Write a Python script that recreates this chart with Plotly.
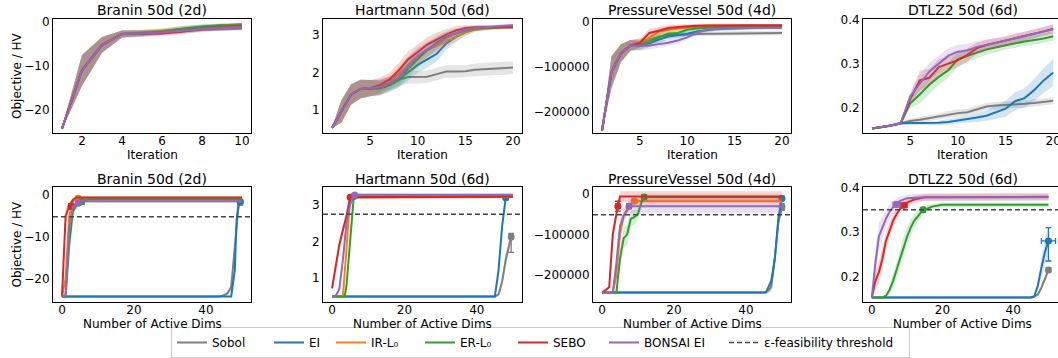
import plotly.graph_objects as go

# ---------------- data ----------------
METHODS = ["Sobol", "EI", "IR-L0", "ER-L0", "SEBO", "BONSAI EI"]
LEGEND_NAMES = ["Sobol", "EI", "IR-L₀", "ER-L₀", "SEBO", "BONSAI EI"]
COLORS = ["#7f7f7f", "#1f77b4", "#ff7f0e", "#2ca02c", "#d62728", "#9467bd"]
PANEL_TITLES = ["Branin 50d (2d)", "Hartmann 50d (6d)", "PressureVessel 50d (4d)", "DTLZ2 50d (6d)"]
THRESHOLD_NAME = "ε-feasibility threshold"
TOP_XLABEL = "Iteration"
BOTTOM_XLABEL = "Number of Active Dims"
YLABEL = "Objective / HV"

ITER_10 = [1, 2, 3, 4, 5, 6, 7, 8, 9, 10]
ITER_20 = [1, 2, 3, 4, 5, 6, 7, 8, 9, 10, 11, 12, 13, 14, 15, 16, 17, 18, 19, 20]

# --- top row: objective vs iteration (mean, standard error) ---
BRANIN_MEAN = {
    "Sobol":     [-24.3, -11.0, -5.2, -2.7, -2.6, -2.4, -2.1, -1.8, -1.6, -1.5],
    "EI":        [-24.3, -11.0, -5.2, -2.7, -2.5, -2.1, -1.5, -1.0, -0.7, -0.5],
    "IR-L0":     [-24.3, -11.0, -5.2, -2.7, -2.4, -2.0, -1.5, -1.1, -0.8, -0.6],
    "ER-L0":     [-24.3, -11.0, -5.2, -2.7, -2.5, -2.2, -1.6, -1.1, -0.8, -0.7],
    "SEBO":      [-24.3, -11.0, -5.2, -2.7, -2.7, -2.6, -2.2, -1.6, -1.2, -0.9],
    "BONSAI EI": [-24.3, -11.0, -5.2, -2.7, -2.6, -2.4, -2.0, -1.6, -1.3, -1.1],
}
BRANIN_SE = {
    "Sobol":     [0.2, 3.5, 1.8, 0.8, 0.7, 0.6, 0.5, 0.5, 0.4, 0.4],
    "EI":        [0.2, 3.5, 1.8, 0.8, 0.7, 0.6, 0.6, 0.5, 0.4, 0.3],
    "IR-L0":     [0.2, 3.5, 1.8, 0.8, 0.7, 0.6, 0.6, 0.5, 0.4, 0.3],
    "ER-L0":     [0.2, 3.5, 1.8, 0.8, 0.7, 0.6, 0.6, 0.5, 0.4, 0.3],
    "SEBO":      [0.2, 3.5, 1.8, 0.8, 0.7, 0.6, 0.6, 0.5, 0.5, 0.4],
    "BONSAI EI": [0.2, 3.5, 1.8, 0.8, 0.7, 0.6, 0.6, 0.5, 0.5, 0.4],
}

HARTMANN_MEAN = {
    "Sobol":     [0.50, 0.95, 1.40, 1.55, 1.57, 1.60, 1.70, 1.80, 1.87, 1.87, 1.88, 1.95, 2.02, 2.02, 2.03, 2.07, 2.08, 2.10, 2.10, 2.13],
    "EI":        [0.50, 0.95, 1.40, 1.55, 1.57, 1.57, 1.65, 1.80, 2.00, 2.20, 2.35, 2.50, 2.78, 2.95, 3.08, 3.17, 3.20, 3.22, 3.24, 3.25],
    "IR-L0":     [0.50, 0.95, 1.40, 1.55, 1.57, 1.60, 1.72, 1.95, 2.20, 2.42, 2.60, 2.72, 2.83, 2.95, 3.08, 3.15, 3.18, 3.20, 3.21, 3.22],
    "ER-L0":     [0.50, 0.95, 1.40, 1.55, 1.57, 1.57, 1.65, 1.78, 2.10, 2.35, 2.60, 2.80, 2.95, 3.05, 3.13, 3.18, 3.20, 3.21, 3.22, 3.22],
    "SEBO":      [0.50, 0.95, 1.40, 1.55, 1.57, 1.65, 1.80, 2.05, 2.35, 2.55, 2.75, 2.88, 3.02, 3.13, 3.20, 3.22, 3.22, 3.22, 3.23, 3.23],
    "BONSAI EI": [0.50, 0.95, 1.40, 1.55, 1.57, 1.60, 1.70, 1.85, 2.20, 2.45, 2.62, 2.78, 2.93, 3.06, 3.15, 3.20, 3.22, 3.24, 3.25, 3.27],
}
HARTMANN_SE = {
    "Sobol":     [0.02, 0.30, 0.28, 0.25, 0.22, 0.20, 0.18, 0.17, 0.17, 0.17, 0.17, 0.17, 0.17, 0.17, 0.17, 0.17, 0.17, 0.17, 0.17, 0.17],
    "EI":        [0.02, 0.30, 0.28, 0.25, 0.22, 0.20, 0.18, 0.20, 0.22, 0.22, 0.22, 0.20, 0.18, 0.14, 0.10, 0.07, 0.06, 0.05, 0.05, 0.05],
    "IR-L0":     [0.02, 0.30, 0.28, 0.25, 0.22, 0.20, 0.18, 0.20, 0.22, 0.22, 0.20, 0.18, 0.15, 0.12, 0.08, 0.06, 0.05, 0.05, 0.05, 0.05],
    "ER-L0":     [0.02, 0.30, 0.28, 0.25, 0.22, 0.20, 0.18, 0.20, 0.22, 0.22, 0.20, 0.18, 0.15, 0.12, 0.08, 0.06, 0.05, 0.05, 0.05, 0.05],
    "SEBO":      [0.02, 0.30, 0.28, 0.25, 0.22, 0.20, 0.18, 0.20, 0.22, 0.22, 0.20, 0.18, 0.15, 0.12, 0.08, 0.06, 0.05, 0.05, 0.05, 0.05],
    "BONSAI EI": [0.02, 0.30, 0.28, 0.25, 0.22, 0.20, 0.18, 0.20, 0.22, 0.22, 0.20, 0.18, 0.15, 0.12, 0.08, 0.06, 0.05, 0.05, 0.05, 0.05],
}

PV_MEAN = {
    "Sobol":     [-243000, -112000, -70000, -53000, -48000, -40000, -33000, -30000, -29000, -28000, -27500, -27000, -27000, -26500, -26000, -26000, -25500, -25500, -25000, -25000],
    "EI":        [-243000, -112000, -70000, -53000, -53000, -48000, -40000, -33000, -30000, -27000, -22000, -19000, -17000, -16000, -15000, -14500, -14000, -13500, -13000, -13000],
    "IR-L0":     [-243000, -112000, -70000, -53000, -50000, -35000, -22000, -18000, -15000, -13000, -11000, -10000, -10000, -9500, -9500, -9500, -9500, -9000, -9000, -9000],
    "ER-L0":     [-243000, -112000, -70000, -53000, -52000, -45000, -35000, -27000, -25000, -18000, -15000, -13000, -12500, -12000, -12000, -12000, -12000, -12000, -12000, -12000],
    "SEBO":      [-243000, -112000, -70000, -53000, -47000, -25000, -20000, -14000, -12000, -10000, -9000, -8500, -8000, -8000, -8000, -8000, -8000, -8000, -8000, -8000],
    "BONSAI EI": [-243000, -112000, -70000, -53000, -54000, -53000, -50000, -47000, -42000, -35000, -25000, -18000, -16000, -15000, -14500, -14000, -14000, -14000, -14000, -14000],
}
PV_SE = {
    "Sobol":     [2000, 35000, 20000, 12000, 10000, 9000, 8000, 7000, 6000, 5000, 5000, 5000, 5000, 5000, 5000, 5000, 5000, 5000, 5000, 5000],
    "EI":        [2000, 35000, 20000, 12000, 10000, 9000, 8000, 7000, 6000, 5000, 4500, 4000, 4000, 3500, 3500, 3500, 3500, 3000, 3000, 3000],
    "IR-L0":     [2000, 35000, 20000, 12000, 10000, 9000, 8000, 7000, 6000, 5000, 4500, 4000, 4000, 3500, 3500, 3500, 3500, 3000, 3000, 3000],
    "ER-L0":     [2000, 35000, 20000, 12000, 10000, 9000, 8000, 7000, 6000, 5000, 4500, 4000, 4000, 3500, 3500, 3500, 3500, 3000, 3000, 3000],
    "SEBO":      [2000, 35000, 20000, 12000, 10000, 9000, 8000, 7000, 6000, 5000, 4500, 4000, 4000, 3500, 3500, 3500, 3500, 3000, 3000, 3000],
    "BONSAI EI": [2000, 35000, 20000, 12000, 10000, 9000, 8000, 7000, 6000, 5000, 4500, 4000, 4000, 3500, 3500, 3500, 3500, 3000, 3000, 3000],
}

DTLZ2_MEAN = {
    "Sobol":     [0.153, 0.156, 0.160, 0.165, 0.170, 0.173, 0.177, 0.180, 0.185, 0.188, 0.190, 0.197, 0.203, 0.205, 0.206, 0.207, 0.209, 0.211, 0.213, 0.216],
    "EI":        [0.153, 0.156, 0.160, 0.165, 0.165, 0.165, 0.165, 0.166, 0.168, 0.171, 0.174, 0.178, 0.182, 0.190, 0.198, 0.215, 0.222, 0.240, 0.262, 0.280],
    "ER-L0":     [0.153, 0.156, 0.160, 0.165, 0.210, 0.230, 0.252, 0.270, 0.285, 0.310, 0.318, 0.325, 0.332, 0.337, 0.342, 0.346, 0.350, 0.353, 0.357, 0.362],
    "SEBO":      [0.153, 0.156, 0.160, 0.165, 0.220, 0.262, 0.268, 0.292, 0.300, 0.308, 0.320, 0.335, 0.342, 0.347, 0.352, 0.358, 0.362, 0.368, 0.373, 0.379],
    "BONSAI EI": [0.153, 0.156, 0.160, 0.165, 0.225, 0.255, 0.282, 0.300, 0.318, 0.327, 0.330, 0.338, 0.342, 0.347, 0.352, 0.357, 0.362, 0.368, 0.373, 0.378],
}
DTLZ2_SE = {
    "Sobol":     [0.001, 0.002, 0.002, 0.003, 0.005, 0.006, 0.007, 0.007, 0.008, 0.008, 0.008, 0.008, 0.008, 0.008, 0.008, 0.008, 0.008, 0.008, 0.008, 0.008],
    "EI":        [0.001, 0.002, 0.002, 0.003, 0.003, 0.003, 0.004, 0.005, 0.006, 0.007, 0.008, 0.010, 0.012, 0.015, 0.018, 0.020, 0.022, 0.025, 0.028, 0.030],
    "ER-L0":     [0.001, 0.002, 0.002, 0.003, 0.010, 0.020, 0.020, 0.018, 0.017, 0.016, 0.015, 0.013, 0.012, 0.011, 0.010, 0.010, 0.010, 0.010, 0.010, 0.010],
    "SEBO":      [0.001, 0.002, 0.002, 0.003, 0.010, 0.022, 0.020, 0.018, 0.017, 0.016, 0.015, 0.013, 0.012, 0.011, 0.010, 0.010, 0.010, 0.010, 0.010, 0.010],
    "BONSAI EI": [0.001, 0.002, 0.002, 0.003, 0.010, 0.020, 0.020, 0.018, 0.017, 0.016, 0.015, 0.013, 0.012, 0.011, 0.010, 0.010, 0.010, 0.010, 0.010, 0.010],
}

# --- bottom row: objective vs number of active dims (dims, mean, standard error) ---
BRANIN_DIMS_X = {
    "Sobol": [0, 44, 45, 46, 47, 48, 49, 49.5],
    "EI": [0, 47, 48, 48.5, 49, 49.5],
    "IR-L0": [0, 1, 2, 3, 4, 50],
    "ER-L0": [0, 1, 2, 3, 4, 5, 6, 8, 50],
    "SEBO": [0, 1, 2, 3, 4, 50],
    "BONSAI EI": [0, 1, 2, 3, 4, 5, 50],
}
BRANIN_DIMS_Y = {
    "Sobol": [-24.3, -24.3, -24.0, -23.5, -22.0, -12.0, -3.0, -1.8],
    "EI": [-24.3, -24.3, -18.0, -6.0, -2.5, -1.5],
    "IR-L0": [-24.3, -20.0, -5.0, -1.6, -0.8, -0.8],
    "ER-L0": [-24.3, -24.3, -12.0, -4.0, -2.5, -1.6, -1.3, -1.1, -1.1],
    "SEBO": [-24.3, -5.0, -2.7, -1.2, -0.6, -0.6],
    "BONSAI EI": [-24.3, -24.0, -8.0, -3.0, -2.0, -1.5, -1.5],
}
BRANIN_DIMS_SE = {
    "Sobol": [0.1, 0.1, 0.3, 0.5, 1.0, 2.0, 1.0, 0.5],
    "EI": [0.1, 0.1, 1.0, 1.0, 0.5, 0.3],
    "IR-L0": [0.1, 2.0, 2.0, 0.6, 0.3, 0.3],
    "ER-L0": [0.1, 0.5, 3.0, 2.0, 1.0, 0.6, 0.4, 0.3, 0.3],
    "SEBO": [0.1, 2.0, 1.0, 0.4, 0.3, 0.3],
    "BONSAI EI": [0.1, 1.0, 3.0, 1.2, 0.6, 0.4, 0.4],
}
# final point: [dims, objective, dims err, objective err (minus), objective err (plus)]
BRANIN_FINAL = {
    "Sobol": [49.5, -1.8, 0.5, 0.6, 0.6],
    "EI": [49.5, -1.5, 0.3, 0.3, 0.3],
    "IR-L0": [4.5, -0.8, 0.5, 0.3, 0.3],
    "ER-L0": [5.5, -1.6, 0.6, 0.5, 0.5],
    "SEBO": [2.5, -2.7, 0.4, 0.6, 0.6],
    "BONSAI EI": [4.5, -2.0, 0.4, 0.5, 0.5],
}

HARTMANN_DIMS_X = {
    "Sobol": [0, 45, 46, 47, 48, 49, 49.5],
    "EI": [0, 45, 46, 47, 48, 49, 50],
    "IR-L0": [0, 3, 4, 5, 50],
    "ER-L0": [0, 3.5, 4, 5, 6, 50],
    "SEBO": [0, 1, 2, 3, 4, 5, 50],
    "BONSAI EI": [0, 1, 2, 3, 4, 5, 6, 50],
}
HARTMANN_DIMS_Y = {
    "Sobol": [0.50, 0.50, 0.55, 0.90, 1.50, 1.95, 2.12],
    "EI": [0.50, 0.50, 1.20, 2.40, 3.19, 3.24, 3.25],
    "IR-L0": [0.50, 0.50, 1.80, 3.20, 3.21],
    "ER-L0": [0.50, 0.50, 0.80, 2.00, 3.22, 3.23],
    "SEBO": [0.72, 1.30, 1.90, 2.30, 2.70, 3.20, 3.22],
    "BONSAI EI": [0.50, 0.52, 0.70, 1.50, 2.50, 3.00, 3.27, 3.27],
}
HARTMANN_DIMS_SE = {
    "Sobol": [0.01, 0.01, 0.05, 0.15, 0.20, 0.15, 0.10],
    "EI": [0.01, 0.01, 0.10, 0.15, 0.05, 0.03, 0.03],
    "IR-L0": [0.01, 0.01, 0.20, 0.05, 0.04],
    "ER-L0": [0.01, 0.01, 0.10, 0.20, 0.04, 0.04],
    "SEBO": [0.10, 0.15, 0.15, 0.15, 0.10, 0.05, 0.04],
    "BONSAI EI": [0.01, 0.03, 0.10, 0.15, 0.15, 0.10, 0.03, 0.03],
}
HARTMANN_FINAL = {
    "Sobol": [49.5, 2.12, 0.5, 0.42, 0.10],
    "EI": [48.0, 3.19, 0.3, 0.05, 0.05],
    "IR-L0": [5.3, 3.21, 0.3, 0.03, 0.03],
    "ER-L0": [6.0, 3.22, 0.3, 0.03, 0.03],
    "SEBO": [5.0, 3.20, 0.4, 0.03, 0.03],
    "BONSAI EI": [6.3, 3.26, 0.4, 0.03, 0.03],
}

PV_DIMS_X = {
    "Sobol": [0, 45, 46, 47, 48, 49, 50],
    "EI": [0, 45.5, 47, 48, 49, 50],
    "IR-L0": [0, 3, 4, 5, 6, 7, 8, 9, 50],
    "ER-L0": [0, 4, 5, 6, 7, 8, 9, 10, 11, 11.7, 50],
    "SEBO": [0, 2, 3, 4, 4.4, 5, 50],
    "BONSAI EI": [0, 3, 4, 5, 6, 7, 7.5, 50],
}
PV_DIMS_Y = {
    "Sobol": [-243000, -243000, -240000, -230000, -160000, -70000, -33000],
    "EI": [-243000, -243000, -215000, -160000, -60000, -12000],
    "IR-L0": [-243000, -243000, -200000, -100000, -55000, -40000, -28000, -19000, -19000],
    "ER-L0": [-243000, -243000, -160000, -110000, -100000, -62000, -58000, -50000, -20000, -8500, -8500],
    "SEBO": [-243000, -230000, -100000, -45000, -31000, -7500, -7500],
    "BONSAI EI": [-243000, -243000, -170000, -80000, -55000, -40000, -31000, -31000],
}
PV_DIMS_SE = {
    "Sobol": [2000, 2000, 5000, 10000, 20000, 15000, 8000],
    "EI": [2000, 2000, 10000, 20000, 15000, 5000],
    "IR-L0": [2000, 2000, 15000, 20000, 15000, 12000, 10000, 10000, 10000],
    "ER-L0": [2000, 2000, 20000, 25000, 25000, 20000, 18000, 15000, 10000, 7000, 7000],
    "SEBO": [2000, 5000, 20000, 15000, 12000, 13000, 13000],
    "BONSAI EI": [2000, 2000, 20000, 20000, 15000, 12000, 18000, 18000],
}
PV_FINAL = {
    "Sobol": [50.0, -33000, 0.5, 8000, 8000],
    "EI": [50.0, -12000, 0.4, 5000, 5000],
    "IR-L0": [9.0, -19000, 0.6, 6000, 6000],
    "ER-L0": [11.7, -8500, 0.6, 5000, 5000],
    "SEBO": [4.4, -31000, 0.6, 12000, 12000],
    "BONSAI EI": [7.5, -31000, 0.6, 6000, 6000],
}

DTLZ2_DIMS_X = {
    "Sobol": [0, 45.5, 47, 48, 49, 50],
    "EI": [0, 45, 46, 47, 48, 49, 50],
    "ER-L0": [0, 3, 4, 5, 6, 7, 8, 9, 10, 11, 12, 13, 14, 15, 17, 20, 50],
    "SEBO": [0, 1, 2, 3, 4, 5, 6, 7, 8, 9, 10, 12, 15, 50],
    "BONSAI EI": [0, 1, 2, 3, 4, 5, 6, 7, 8, 10, 15, 50],
}
DTLZ2_DIMS_Y = {
    "Sobol": [0.153, 0.153, 0.160, 0.175, 0.195, 0.215],
    "EI": [0.153, 0.153, 0.156, 0.180, 0.220, 0.255, 0.280],
    "ER-L0": [0.153, 0.153, 0.157, 0.170, 0.190, 0.215, 0.245, 0.270, 0.290, 0.310, 0.325, 0.335, 0.345, 0.350, 0.357, 0.361, 0.361],
    "SEBO": [0.153, 0.190, 0.210, 0.240, 0.280, 0.305, 0.325, 0.340, 0.352, 0.360, 0.366, 0.373, 0.378, 0.379],
    "BONSAI EI": [0.153, 0.230, 0.290, 0.310, 0.330, 0.345, 0.355, 0.362, 0.370, 0.376, 0.378, 0.378],
}
DTLZ2_DIMS_SE = {
    "Sobol": [0.001, 0.001, 0.003, 0.005, 0.006, 0.006],
    "EI": [0.001, 0.001, 0.003, 0.010, 0.020, 0.030, 0.030],
    "ER-L0": [0.001, 0.001, 0.003, 0.010, 0.015, 0.020, 0.020, 0.020, 0.020, 0.018, 0.015, 0.012, 0.010, 0.008, 0.006, 0.005, 0.005],
    "SEBO": [0.001, 0.020, 0.025, 0.025, 0.020, 0.018, 0.015, 0.012, 0.010, 0.009, 0.008, 0.008, 0.008, 0.008],
    "BONSAI EI": [0.001, 0.030, 0.030, 0.025, 0.020, 0.018, 0.015, 0.012, 0.010, 0.008, 0.008, 0.008],
}
DTLZ2_FINAL = {
    "Sobol": [50.0, 0.215, 0.4, 0.005, 0.005],
    "EI": [50.0, 0.280, 2.0, 0.045, 0.030],
    "ER-L0": [14.5, 0.350, 0.6, 0.004, 0.004],
    "SEBO": [9.0, 0.360, 1.0, 0.005, 0.005],
    "BONSAI EI": [7.0, 0.362, 1.0, 0.005, 0.005],
}

THRESHOLDS = [-5.2, 2.74, -52000, 0.35]

# tick values / labels
TOP_X_TICKS = [[2, 4, 6, 8, 10], [5, 10, 15, 20], [5, 10, 15, 20], [5, 10, 15, 20]]
BOTTOM_X_TICKS = [0, 20, 40]
Y_TICKS = [[0, -10, -20], [1, 2, 3], [0, -100000, -200000], [0.2, 0.3, 0.4]]
Y_TICK_TEXT = [["0", "−10", "−20"], ["1", "2", "3"], ["0", "−100000", "−200000"], ["0.2", "0.3", "0.4"]]

# ---------------- layout (pixels) ----------------
W, H = 1058, 358
COL_PX = [(53, 251), (323, 522), (593, 791), (863, 1058)]
ROW_PX = [(19, 133), (187, 302)]
TOP_X_RANGE = [[0.55, 10.45], [0.05, 20.95], [0.05, 20.95], [0.05, 20.5]]
BOTTOM_X_RANGE = [[-2.5, 52.5], [-2.5, 52.5], [-2.5, 52.5], [-2.5, 52.7]]
TOP_Y_RANGE = [[-25.3, 0.7], [0.36, 3.44], [-248000, 6000], [0.143, 0.401]]
BOTTOM_Y_RANGE = [[-25.6, 1.9], [0.35, 3.48], [-266000, 16000], [0.143, 0.401]]
TITLE_Y_PX = [10, 179]
XLABEL_Y_PX = [155, 324]
YLABEL_X_PX = 17
LEGEND_WIDTHS = [52, 17, 44, 48, 46, 75, 140]


def rgba(hexcol, a):
    h = hexcol.lstrip("#")
    return "rgba(%d,%d,%d,%.3f)" % (int(h[0:2], 16), int(h[2:4], 16), int(h[4:6], 16), a)


fig = go.Figure()
layout = dict(
    template="none",
    width=W, height=H, margin=dict(l=0, r=0, t=0, b=0, autoexpand=False),
    paper_bgcolor="white", plot_bgcolor="white",
    font=dict(family="DejaVu Sans", size=12, color="black"),
    showlegend=True, hovermode=False,
)

annotations = []
shapes = []

top_sets = [(ITER_10, BRANIN_MEAN, BRANIN_SE), (ITER_20, HARTMANN_MEAN, HARTMANN_SE),
            (ITER_20, PV_MEAN, PV_SE), (ITER_20, DTLZ2_MEAN, DTLZ2_SE)]
bottom_sets = [(BRANIN_DIMS_X, BRANIN_DIMS_Y, BRANIN_DIMS_SE, BRANIN_FINAL),
               (HARTMANN_DIMS_X, HARTMANN_DIMS_Y, HARTMANN_DIMS_SE, HARTMANN_FINAL),
               (PV_DIMS_X, PV_DIMS_Y, PV_DIMS_SE, PV_FINAL),
               (DTLZ2_DIMS_X, DTLZ2_DIMS_Y, DTLZ2_DIMS_SE, DTLZ2_FINAL)]


def text_ann(text, xpx, ypx, size=12, angle=0):
    return dict(text=text, xref="paper", yref="paper", x=xpx / W, y=1 - ypx / H,
                xanchor="center", yanchor="middle", showarrow=False, textangle=angle,
                font=dict(family="DejaVu Sans", size=size, color="black"))


for row in range(2):
    for col in range(4):
        idx = row * 4 + col + 1
        xa = "x" if idx == 1 else "x%d" % idx
        ya = "y" if idx == 1 else "y%d" % idx
        xkey = "xaxis" if idx == 1 else "xaxis%d" % idx
        ykey = "yaxis" if idx == 1 else "yaxis%d" % idx
        x0, x1 = COL_PX[col]
        yt, yb = ROW_PX[row]
        common = dict(showline=True, mirror=True, linecolor="black", linewidth=1,
                      ticks="", showgrid=False, zeroline=False, automargin=False,
                      tickfont=dict(family="DejaVu Sans", size=12, color="black"))
        layout[xkey] = dict(common, domain=[x0 / W, min(x1 / W, 1.0)], anchor=ya,
                            range=(TOP_X_RANGE if row == 0 else BOTTOM_X_RANGE)[col],
                            tickmode="array", ticklabelstandoff=-3, ticklabeloverflow="allow",
                            tickvals=TOP_X_TICKS[col] if row == 0 else BOTTOM_X_TICKS)
        layout[ykey] = dict(common, domain=[1 - yb / H, 1 - yt / H], anchor=xa,
                            range=(TOP_Y_RANGE if row == 0 else BOTTOM_Y_RANGE)[col],
                            tickmode="array", tickvals=Y_TICKS[col], ticktext=Y_TICK_TEXT[col])
        xc = (x0 + x1) / 2 if col < 3 else (x0 + 1062) / 2
        annotations.append(text_ann(PANEL_TITLES[col], xc, TITLE_Y_PX[row], size=14))
        annotations.append(text_ann(TOP_XLABEL if row == 0 else BOTTOM_XLABEL, xc, XLABEL_Y_PX[row]))
        if col == 0:
            annotations.append(text_ann(YLABEL, YLABEL_X_PX, (yt + yb) / 2, angle=-90))

        if row == 0:
            xs, means, ses = top_sets[col]
            for m, name, color in zip(METHODS, LEGEND_NAMES, COLORS):
                if m not in means:
                    continue
                mu, se = means[m], ses[m]
                hi = [a + b for a, b in zip(mu, se)]
                lo = [a - b for a, b in zip(mu, se)]
                fig.add_trace(go.Scatter(x=xs + xs[::-1], y=hi + lo[::-1], mode="lines", fill="toself",
                                         fillcolor=rgba(color, 0.2), line=dict(width=0),
                                         hoverinfo="skip", showlegend=False, xaxis=xa, yaxis=ya))
                fig.add_trace(go.Scatter(x=xs, y=mu, mode="lines", name=name,
                                         line=dict(color=color, width=2), legendgroup=m,
                                         legendwidth=LEGEND_WIDTHS[METHODS.index(m)],
                                         showlegend=(idx == 1), xaxis=xa, yaxis=ya))
        else:
            dx, dy, dse, fin = bottom_sets[col]
            shapes.append(dict(type="line", xref="%s domain" % xa, yref=ya, x0=0, x1=1,
                               y0=THRESHOLDS[col], y1=THRESHOLDS[col],
                               line=dict(color="#444444", width=1.5, dash="5px,3px")))
            for m, name, color in zip(METHODS, LEGEND_NAMES, COLORS):
                if m not in dx:
                    continue
                xs, mu, se = dx[m], dy[m], dse[m]
                hi = [a + b for a, b in zip(mu, se)]
                lo = [a - b for a, b in zip(mu, se)]
                fig.add_trace(go.Scatter(x=xs + xs[::-1], y=hi + lo[::-1], mode="lines", fill="toself",
                                         fillcolor=rgba(color, 0.2), line=dict(width=0),
                                         hoverinfo="skip", showlegend=False, xaxis=xa, yaxis=ya))
                fig.add_trace(go.Scatter(x=xs, y=mu, mode="lines", name=name,
                                         line=dict(color=color, width=2), legendgroup=m,
                                         showlegend=False, xaxis=xa, yaxis=ya))
                fx, fy, fxe, fym, fyp = fin[m]
                fig.add_trace(go.Scatter(x=[fx], y=[fy], mode="markers", legendgroup=m,
                                         marker=dict(color=color, size=7, line=dict(width=0)),
                                         error_x=dict(type="data", array=[fxe], color=color, thickness=1.3, width=3),
                                         error_y=dict(type="data", array=[fyp], arrayminus=[fym], symmetric=False,
                                                      color=color, thickness=1.3, width=3),
                                         showlegend=False, xaxis=xa, yaxis=ya))

# legend entry for the threshold line
fig.add_trace(go.Scatter(x=[None], y=[None], mode="lines", name=THRESHOLD_NAME,
                         line=dict(color="#444444", width=1.5, dash="5px,3px"),
                         legendwidth=LEGEND_WIDTHS[-1],
                         xaxis="x", yaxis="y", showlegend=True))

layout["annotations"] = annotations
layout["shapes"] = shapes
layout["legend"] = dict(orientation="h", x=171 / W, xanchor="left", y=1 - 342.5 / H, yanchor="middle",
                        bordercolor="#cccccc", borderwidth=1, bgcolor="white",
                        font=dict(family="DejaVu Sans", size=12, color="black"),
                        itemwidth=30, traceorder="normal")
fig.update_layout(**layout)
fig.write_html("out.html", config={"displayModeBar": False, "staticPlot": True},
               post_script="document.body.style.margin='0px';document.body.style.padding='0px';")
